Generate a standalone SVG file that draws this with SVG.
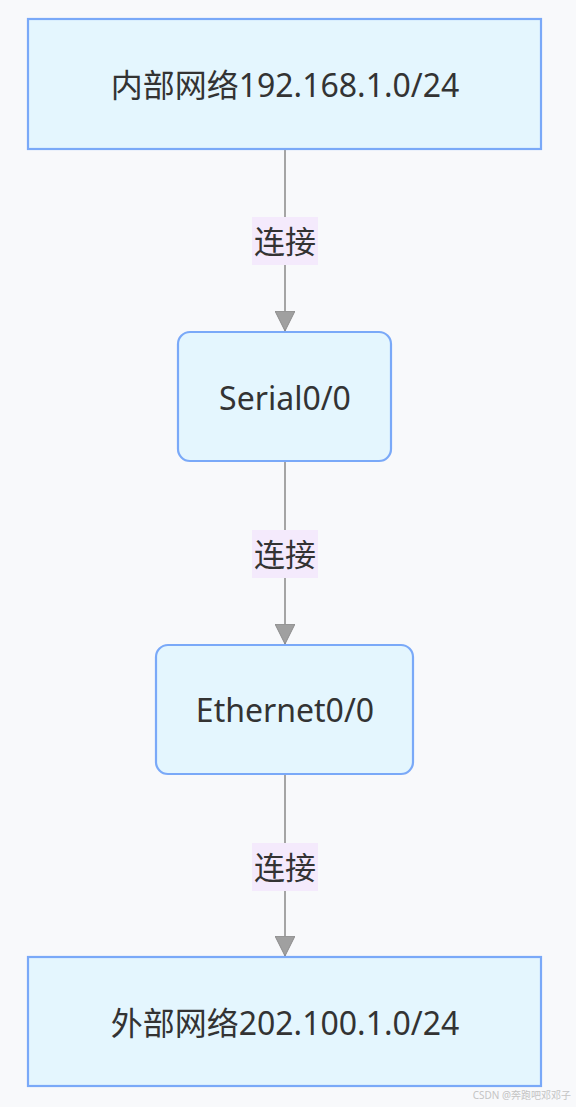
<svg xmlns="http://www.w3.org/2000/svg" width="576" height="1107" viewBox="0 0 576 1107">
<style>
.node rect{fill:#e4f6fe;stroke:#7aa9f8;stroke-width:2.2}
.lbl{font-family:"Noto Sans","Noto Sans CJK SC",sans-serif;font-size:32px;fill:#333;text-anchor:middle;dominant-baseline:central}
.el{font-family:"Noto Sans","Noto Sans CJK SC",sans-serif;font-size:31px;fill:#333;text-anchor:middle;dominant-baseline:central}
.edge{stroke:#a5a5a5;stroke-width:2;fill:none}
.elbg{fill:#f4eafc}
.wm{font-family:"Noto Sans","Noto Sans CJK SC",sans-serif;font-size:10px;fill:#c4c4c4;text-anchor:end}
</style>
<defs>
<marker id="arr" markerWidth="20" markerHeight="20" viewBox="0 0 20 20" refX="20" refY="10" orient="auto" markerUnits="userSpaceOnUse">
<path d="M0,0 L20,10 L0,20 Z" fill="#a0a0a0" stroke="#8c8c8c" stroke-width="1"/>
</marker>
</defs>
<rect width="576" height="1107" fill="#f8f9fb"/>
<g id="connectors">
<path class="edge" d="M285,150 V331" marker-end="url(#arr)"/>
<path class="edge" d="M285,462 V644" marker-end="url(#arr)"/>
<path class="edge" d="M285,775 V956" marker-end="url(#arr)"/>
<rect class="elbg" x="252" y="217" width="66" height="48"/>
<text class="el" x="285" y="241">连接</text>
<rect class="elbg" x="252" y="530" width="66" height="48"/>
<text class="el" x="285" y="554">连接</text>
<rect class="elbg" x="252" y="843" width="66" height="48"/>
<text class="el" x="285" y="867">连接</text>
</g>
<g id="n1" class="node">
<rect x="28" y="19" width="513" height="130"/>
<text class="lbl" x="285" y="84">内部网络192.168.1.0/24</text>
</g>
<g id="n2" class="node">
<rect x="178" y="332" width="213" height="129" rx="12"/>
<text class="lbl" x="285" y="397">Serial0/0</text>
</g>
<g id="n3" class="node">
<rect x="156" y="645" width="257" height="129" rx="12"/>
<text class="lbl" x="285" y="709">Ethernet0/0</text>
</g>
<g id="n4" class="node">
<rect x="28" y="957" width="513" height="129"/>
<text class="lbl" x="285" y="1022">外部网络202.100.1.0/24</text>
</g>
<text class="wm" x="571" y="1099">CSDN @奔跑吧邓邓子</text>
</svg>
